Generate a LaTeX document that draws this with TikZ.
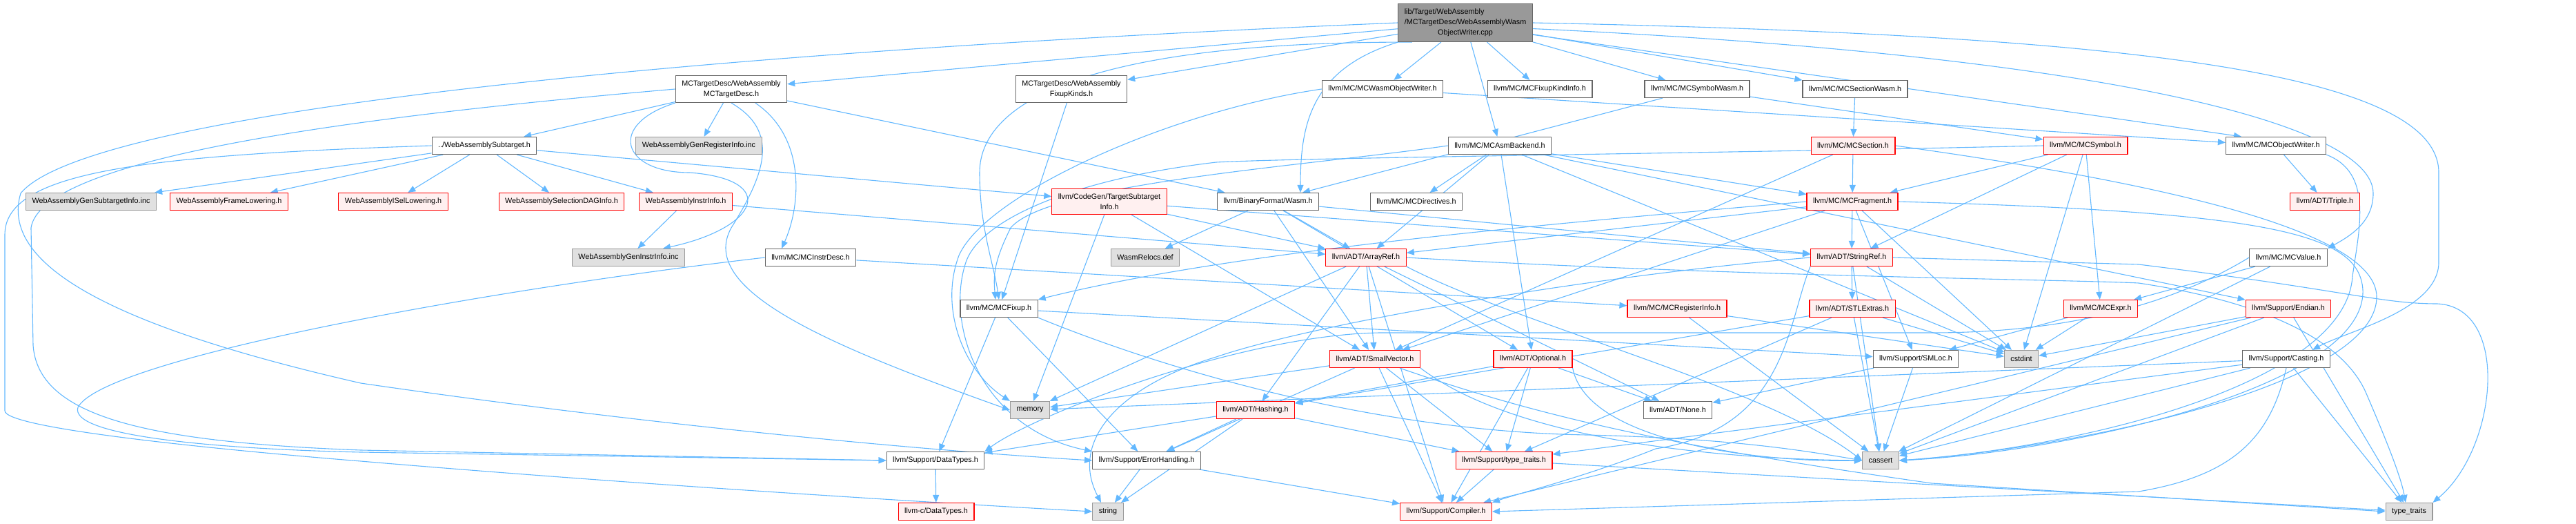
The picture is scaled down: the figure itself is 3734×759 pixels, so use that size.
\documentclass[tikz,border=0pt]{standalone}
\usepackage{fontspec}
\setmainfont{Liberation Sans}
\usetikzlibrary{arrows.meta}
\definecolor{edgeblue}{HTML}{63B8FF}
\definecolor{redfill}{HTML}{FFF0F0}
\definecolor{grayfill}{HTML}{E0E0E0}
\definecolor{grayline}{HTML}{999999}
\definecolor{boxline}{HTML}{666666}
\pgfdeclarelayer{bg}
\pgfsetlayers{bg,main}
\tikzset{
  hdr/.style={draw=boxline, fill=white, line width=1.2pt, inner xsep=9pt, inner ysep=7pt,
    minimum height=25pt, font=\fontsize{10.8}{15}\selectfont, align=center},
  trunc/.style={hdr, draw=red, fill=redfill},
  sys/.style={hdr, draw=grayline, fill=grayfill},
  rootfile/.style={hdr, fill=grayline, inner ysep=5pt},
  dep/.style={draw=edgeblue, line width=1.1pt, -{Triangle[length=11pt,width=9pt]}},
}

\begin{document}
\begin{tikzpicture}[x=1pt, y=-1pt]
        \useasboundingbox (0,0) rectangle (3734,759);

        % row 0
        \node[rootfile] (root) at (2124,33) {\begin{tabular}{@{}l@{}}lib/Target/WebAssembly\\/MCTargetDesc/WebAssemblyWasm\\\multicolumn{1}{@{}c@{}}{ObjectWriter.cpp}\end{tabular}};

        % row 1
        \node[hdr] (mctd) at (1060,129) {MCTargetDesc/WebAssembly\\MCTargetDesc.h};
        \node[hdr] (fixkinds) at (1553,129) {MCTargetDesc/WebAssembly\\FixupKinds.h};
        \node[hdr] (wasmow) at (2004,129) {llvm/MC/MCWasmObjectWriter.h};
        \node[hdr] (kindinfo) at (2232,129) {llvm/MC/MCFixupKindInfo.h};
        \node[hdr] (symwasm) at (2460,129) {llvm/MC/MCSymbolWasm.h};
        \node[hdr] (secwasm) at (2689,129) {llvm/MC/MCSectionWasm.h};

        % row 2
        \node[hdr] (subtarget) at (702,211) {../WebAssemblySubtarget.h};
        \node[sys] (genreg) at (1013,211) {WebAssemblyGenRegisterInfo.inc};
        \node[hdr] (asmback) at (2174,211) {llvm/MC/MCAsmBackend.h};
        \node[trunc] (section) at (2686,211) {llvm/MC/MCSection.h};
        \node[trunc] (symbol) at (3023,211) {llvm/MC/MCSymbol.h};
        \node[hdr] (objwriter) at (3299,211) {llvm/MC/MCObjectWriter.h};

        % row 3
        \node[sys] (gensub) at (132,292) {WebAssemblyGenSubtargetInfo.inc};
        \node[trunc] (framelow) at (332,292) {WebAssemblyFrameLowering.h};
        \node[trunc] (isel) at (570,292) {WebAssemblyISelLowering.h};
        \node[trunc] (seldag) at (814,292) {WebAssemblySelectionDAGInfo.h};
        \node[trunc] (instrinfo) at (994,292) {WebAssemblyInstrInfo.h};
        \node[trunc] (tsi) at (1608,292) {llvm/CodeGen/TargetSubtarget\\Info.h};
        \node[hdr] (wasm) at (1838,292) {llvm/BinaryFormat/Wasm.h};
        \node[hdr] (directives) at (2053,292) {llvm/MC/MCDirectives.h};
        \node[trunc] (fragment) at (2685,292) {llvm/MC/MCFragment.h};
        \node[trunc] (triple) at (3370,292) {llvm/ADT/Triple.h};

        % row 4
        \node[sys] (geninstr) at (911,373) {WebAssemblyGenInstrInfo.inc};
        \node[hdr] (instrdesc) at (1175,373) {llvm/MC/MCInstrDesc.h};
        \node[sys] (relocs) at (1660,373) {WasmRelocs.def};
        \node[trunc] (arrayref) at (1980,373) {llvm/ADT/ArrayRef.h};
        \node[trunc] (stringref) at (2684,373) {llvm/ADT/StringRef.h};
        \node[hdr] (mcvalue) at (3317,373) {llvm/MC/MCValue.h};

        % row 5
        \node[hdr] (fixup) at (1448,447) {llvm/MC/MCFixup.h};
        \node[trunc] (reginfo) at (2431,447) {llvm/MC/MCRegisterInfo.h};
        \node[trunc] (stlextras) at (2685,447) {llvm/ADT/STLExtras.h};
        \node[trunc] (expr) at (3045,447) {llvm/MC/MCExpr.h};
        \node[trunc] (endian) at (3317,447) {llvm/Support/Endian.h};

        % row 6
        \node[trunc] (smallvec) at (1993,520) {llvm/ADT/SmallVector.h};
        \node[trunc] (optional) at (2222,520) {llvm/ADT/Optional.h};
        \node[hdr] (smloc) at (2777,520) {llvm/Support/SMLoc.h};
        \node[sys] (cstdint) at (2930,520) {cstdint};
        \node[hdr] (casting) at (3314,520) {llvm/Support/Casting.h};

        % row 7
        \node[sys] (memory) at (1493,594) {memory};
        \node[trunc] (hashing) at (1820,594) {llvm/ADT/Hashing.h};
        \node[hdr] (noneh) at (2432,594) {llvm/ADT/None.h};

        % row 8
        \node[hdr] (datatypes) at (1356,667) {llvm/Support/DataTypes.h};
        \node[hdr] (errhandling) at (1662,667) {llvm/Support/ErrorHandling.h};
        \node[trunc] (suptraits) at (2180,667) {llvm/Support/type\_traits.h};
        \node[sys] (cassert) at (2726,667) {cassert};

        % row 9
        \node[trunc] (cdatatypes) at (1357,741) {llvm-c/DataTypes.h};
        \node[sys] (string) at (1606,741) {string};
        \node[trunc] (compiler) at (2096,741) {llvm/Support/Compiler.h};
        \node[sys] (typetraits) at (3492,741) {type\_traits};

        \begin{pgfonlayer}{bg}
        \foreach \a/\b in {root/mctd, root/fixkinds, root/wasmow, root/kindinfo, root/symwasm,
            root/secwasm, root/asmback,
            mctd/subtarget, mctd/genreg, mctd/wasm,
            subtarget/gensub, subtarget/framelow, subtarget/isel, subtarget/seldag,
            subtarget/instrinfo, subtarget/tsi,
            instrinfo/geninstr, instrinfo/arrayref, instrdesc/reginfo, fixkinds/fixup,
            wasmow/objwriter,
            asmback/directives, asmback/optional, asmback/fragment, asmback/cstdint,
            asmback/endian, asmback/arrayref,
            symwasm/symbol, symwasm/wasm, secwasm/section,
            section/fragment, section/smallvec,
            symbol/fragment, symbol/stringref, symbol/expr, symbol/cstdint,
            objwriter/triple, mcvalue/expr, mcvalue/cassert,
            fragment/stringref, fragment/arrayref, fragment/smallvec,
            fragment/smloc, fragment/cstdint,
            stringref/stlextras, stringref/cassert, stringref/cstdint,
            stlextras/cassert, stlextras/cstdint, stlextras/hashing, stlextras/suptraits,
            arrayref/hashing, arrayref/smallvec, arrayref/compiler, arrayref/noneh,
            arrayref/memory,
            smallvec/compiler, smallvec/suptraits, smallvec/memory, smallvec/errhandling,
            optional/compiler, optional/suptraits, optional/noneh, optional/hashing,
            hashing/errhandling, hashing/string, hashing/suptraits, hashing/datatypes,
            smloc/noneh, smloc/cassert, reginfo/cassert, reginfo/cstdint,
            expr/smloc, expr/cstdint,
            endian/cstdint, endian/cassert, endian/compiler, endian/typetraits,
            casting/memory, casting/cassert, casting/suptraits, casting/typetraits,
            suptraits/compiler, suptraits/typetraits, errhandling/string,
            errhandling/compiler, datatypes/cdatatypes,
            wasm/relocs, wasm/arrayref, wasm/smallvec, wasm/stringref, wasm/optional,
            fixup/datatypes, fixup/errhandling, fixup/smloc,
            tsi/memory, tsi/arrayref, tsi/smallvec, tsi/stringref} {
            \draw[dep] (\a) -- (\b);
        }

        % edges that go round
        \draw[dep] (root.-10) -- ([xshift=-50pt]objwriter.north);
        \draw[dep] (root.200) .. controls (1600,60) and (1420,140) .. (1420,250)
            .. controls (1420,330) and (1440,380) .. (fixup.north);
        \draw[dep] (root.south west) .. controls (1900,100) and (1885,180) .. ([xshift=47pt]wasm.north);
        \draw[dep] (root.-5) .. controls (3050,80) and (3440,180) .. (3440,280)
            .. controls (3440,320) and (3410,340) .. (mcvalue.north east);
        \draw[dep] (root.east) .. controls (3050,50) and (3535,100) .. (3535,250) -- (3535,380)
            .. controls (3535,450) and (3400,480) .. ([xshift=38pt]casting.north);
        \draw[dep] (root.west) .. controls (900,80) and (120,170) .. (30,280)
            .. controls (0,380) and (150,470) .. (523,555)
            .. controls (900,610) and (1300,650) .. (errhandling.west);
        \draw[dep] (mctd.west) .. controls (500,170) and (60,230) .. (45,330) -- (48,500)
            .. controls (55,600) and (200,640) .. (523,652) -- (datatypes.west);
        \draw[dep] (subtarget.west) .. controls (200,225) and (7,250) .. (7,340) -- (7,595)
            .. controls (7,620) and (300,650) .. (523,668)
            .. controls (900,700) and (1300,725) .. (string.west);
        \draw[dep] (instrdesc.west) .. controls (700,420) and (150,520) .. (113,590)
            .. controls (100,630) and (300,650) .. (523,655) -- (datatypes.west);
        \draw[dep] (mctd.-30) .. controls (1170,200) and (1160,300) .. ([xshift=-42pt]instrdesc.north);
        \draw[dep] (mctd.south west) .. controls (880,180) and (900,250) .. (1000,250)
            .. controls (1130,260) and (1100,330) .. ([xshift=50pt]geninstr.north);
        \draw[dep] (mctd.south) .. controls (1130,190) and (1110,250) .. (1060,330)
            .. controls (1010,420) and (1200,500) .. (memory.west);
        \draw[dep] (wasmow.west) .. controls (1700,160) and (1430,280) .. (1390,370)
            .. controls (1360,450) and (1400,540) .. (memory.north west);
        \draw[dep] (asmback.west) .. controls (1900,240) and (1520,265) .. (1465,330)
            .. controls (1440,380) and (1440,400) .. ([xshift=-5pt]fixup.north);
        \draw[dep] (symbol.west) .. controls (2500,222) and (1900,228) .. (1763,235)
            .. controls (1550,260) and (1420,320) .. (1400,380)
            .. controls (1370,470) and (1420,620) .. (errhandling.north west);
        \draw[dep] (fragment.west) .. controls (2300,320) and (1800,360) .. (fixup.north east);
        \draw[dep] (section.east) .. controls (3100,260) and (3445,330) .. (3445,430)
            .. controls (3445,560) and (3000,650) .. (cassert.east);
        \draw[dep] (fragment.east) .. controls (3300,307) and (3420,340) .. (3425,420)
            .. controls (3430,560) and (3000,655) .. (cassert.east);
        \draw[dep] (objwriter.south east) .. controls (3440,250) and (3420,330) .. (3410,400)
            .. controls (3400,560) and (3000,650) .. (cassert.east);
        \draw[dep] (stringref.east) -- (3100,383) .. controls (3400,420) and (3450,440) .. (3533,440)
            .. controls (3640,445) and (3620,650) .. (typetraits.north east);
        \draw[dep] (stringref.west) .. controls (2300,400) and (1900,470) .. (1763,517)
            .. controls (1620,560) and (1550,640) .. ([xshift=-10pt]string.north);
        \draw[dep] (stringref.south west) .. controls (2590,470) and (2590,620) .. (2400,650)
            .. controls (2300,690) and (2200,715) .. (compiler.north east);
        \draw[dep] (arrayref.east) .. controls (2500,400) and (3000,405) .. (3100,410)
            .. controls (3300,440) and (3400,500) .. (3430,570)
            .. controls (3460,640) and (3480,690) .. ([xshift=-5pt]typetraits.north);
        \draw[dep] (arrayref.south east) .. controls (2200,470) and (2560,560) .. (cassert.west);
        \draw[dep] (smallvec.south east) .. controls (2200,640) and (2500,665) .. (cassert.west);
        \draw[dep] (optional.south east) .. controls (2300,640) and (2550,670) .. (cassert.west);
        \draw[dep] (smallvec.-20) .. controls (2250,610) and (2450,650) .. (2800,700) -- (typetraits.west);
        \draw[dep] (fixup.south east) .. controls (1700,540) and (2000,625) .. (2300,630)
            .. controls (2500,635) and (2600,650) .. (cassert.west);
        \draw[dep] (casting.south) .. controls (3290,640) and (3230,690) .. (3100,712)
            -- (compiler.east);
        \draw[dep] (mcvalue.west) .. controls (3150,440) and (3000,482) .. (2800,482) -- (2000,482)
            .. controls (1800,485) and (1500,600) .. (datatypes.north east);
        \end{pgfonlayer}
\end{tikzpicture}
\end{document}
